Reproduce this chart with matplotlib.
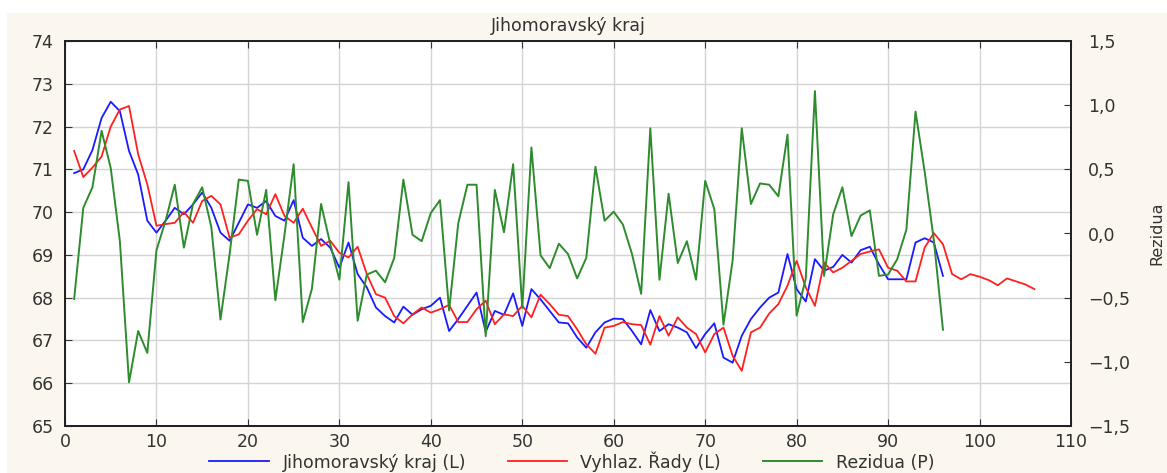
import numpy as np
import matplotlib.pyplot as plt
from matplotlib.patches import Rectangle
from matplotlib.ticker import FuncFormatter

plt.rcParams['font.family'] = ['DejaVu Sans']

# Jihomoravsky kraj (L), obs 1..96
kraj = [70.91, 71.0, 71.45, 72.2, 72.58, 72.36, 71.43, 70.88, 69.8, 69.52,
        69.8, 70.1, 69.95, 70.18, 70.46, 70.1, 69.52, 69.33, 69.75, 70.18,
        70.1, 70.26, 69.91, 69.8, 70.28, 69.4, 69.21, 69.37, 69.17, 68.7,
        69.29, 68.55, 68.24, 67.77, 67.57, 67.42, 67.79, 67.6, 67.73, 67.81,
        68.0, 67.22, 67.5, 67.81, 68.12, 67.2, 67.69, 67.6, 68.1, 67.34,
        68.2, 67.96, 67.69, 67.42, 67.4, 67.07, 66.83, 67.19, 67.42, 67.51,
        67.5, 67.22, 66.91, 67.71, 67.22, 67.38, 67.3, 67.19, 66.82, 67.15,
        67.4, 66.6, 66.48, 67.11, 67.5, 67.77, 68.0, 68.12, 69.02, 68.2,
        67.91, 68.9, 68.63, 68.72, 69.0, 68.82, 69.11, 69.19, 68.78, 68.43,
        68.43, 68.43, 69.29, 69.39, 69.29, 68.51]

# Vyhlaz. rady (L), obs 1..106
vyhlaz = [71.43, 70.82, 71.04, 71.3, 72.0, 72.4, 72.48, 71.35, 70.65, 69.68,
          69.72, 69.75, 70.0, 69.75, 70.26, 70.38, 70.18, 69.4, 69.48, 69.8,
          70.07, 69.95, 70.42, 69.91, 69.75, 70.08, 69.64, 69.21, 69.33, 69.05,
          68.94, 69.19, 68.55, 68.08, 68.0, 67.57, 67.4, 67.61, 67.77, 67.65,
          67.73, 67.83, 67.43, 67.43, 67.73, 67.93, 67.38, 67.61, 67.57, 67.81,
          67.54, 68.07, 67.85, 67.6, 67.57, 67.26, 66.91, 66.69, 67.3, 67.34,
          67.43, 67.38, 67.36, 66.9, 67.57, 67.11, 67.54, 67.3, 67.15, 66.72,
          67.15, 67.3, 66.64, 66.29, 67.19, 67.3, 67.63, 67.85, 68.28, 68.86,
          68.24, 67.81, 68.82, 68.59, 68.7, 68.86, 69.02, 69.08, 69.13, 68.7,
          68.63, 68.38, 68.38, 69.17, 69.51, 69.25, 68.55, 68.43, 68.55, 68.49,
          68.41, 68.29, 68.45, 68.38, 68.31, 68.2]

# Rezidua (P), obs 1..96
rezidua = [-0.51, 0.2, 0.36, 0.8, 0.51, -0.06, -1.16, -0.76, -0.93, -0.13,
           0.1, 0.38, -0.11, 0.23, 0.36, 0.05, -0.67, -0.16, 0.42, 0.41,
           -0.01, 0.34, -0.52, -0.01, 0.54, -0.69, -0.43, 0.23, -0.08, -0.36,
           0.4, -0.68, -0.32, -0.29, -0.38, -0.19, 0.42, -0.01, -0.06, 0.16,
           0.26, -0.6, 0.08, 0.38, 0.38, -0.8, 0.34, 0.01, 0.54, -0.58,
           0.67, -0.17, -0.27, -0.08, -0.16, -0.35, -0.19, 0.52, 0.1, 0.17,
           0.07, -0.16, -0.47, 0.82, -0.36, 0.31, -0.23, -0.06, -0.36, 0.41,
           0.19, -0.71, -0.21, 0.82, 0.23, 0.39, 0.38, 0.29, 0.77, -0.64,
           -0.35, 1.11, -0.33, 0.15, 0.36, -0.02, 0.14, 0.18, -0.33, -0.32,
           -0.2, 0.03, 0.95, 0.48, -0.05, -0.75]

x_kraj = np.arange(1, len(kraj) + 1)
x_vyhlaz = np.arange(1, len(vyhlaz) + 1)
x_rez = np.arange(1, len(rezidua) + 1)

fig = plt.figure(figsize=(11.67, 4.73), dpi=100, facecolor='white')
fig.patches.append(Rectangle((7 / 1167, 0), 1, (473 - 13) / 473,
                             transform=fig.transFigure, facecolor='#fbf7ee',
                             edgecolor='none', zorder=-10))

ax = fig.add_axes([65 / 1167, 47 / 473, (1071 - 65) / 1167, (426 - 41) / 473])
ax.set_facecolor('white')
ax2 = ax.twinx()

l1, = ax.plot(x_kraj, kraj, color='#1a1aff', lw=1.3, label='Jihomoravský kraj (L)')
l2, = ax.plot(x_vyhlaz, vyhlaz, color='#ff2020', lw=1.3, label='Vyhlaz. Řady (L)')
l3, = ax2.plot(x_rez, rezidua, color='#2e8b2e', lw=1.4, label='Rezidua (P)')

ax.set_xlim(0, 110)
ax.set_ylim(65, 74)
ax.set_xticks(np.arange(0, 111, 10))
ax.set_yticks(np.arange(65, 75, 1))
ax.grid(True, color='#d4d4d4', lw=1)
ax.set_axisbelow(True)

ax2.set_ylim(-1.5, 1.5)
ax2.set_yticks(np.arange(-1.5, 1.51, 0.5))
ax2.yaxis.set_major_formatter(FuncFormatter(
    lambda v, p: f'{v:.1f}'.replace('.', ',').replace('-', '\u2212')))
ax2.set_ylabel('Rezidua', fontsize=11.5, color='#333333', labelpad=14,
               family='Liberation Sans Narrow')

for a in (ax, ax2):
    for s in a.spines.values():
        s.set_color('#222222')
        s.set_linewidth(1.3)
ax.tick_params(direction='in', length=5, labelsize=12.5, colors='#333333',
               top=True, pad=8)
ax.tick_params(axis='x', pad=5)
ax2.tick_params(direction='in', length=5, labelsize=12.5, colors='#333333', pad=12)

ax.set_title('Jihomoravský kraj', fontsize=12.5, color='#333333', pad=7)

fig.legend(handles=[l1, l2, l3], loc='lower center', ncol=3, frameon=False,
           fontsize=12.5, handlelength=3.4, columnspacing=2.4,
           bbox_to_anchor=(0.49, -0.03), labelcolor='#333333')

fig.savefig('out.png', dpi=100, facecolor=fig.get_facecolor())
